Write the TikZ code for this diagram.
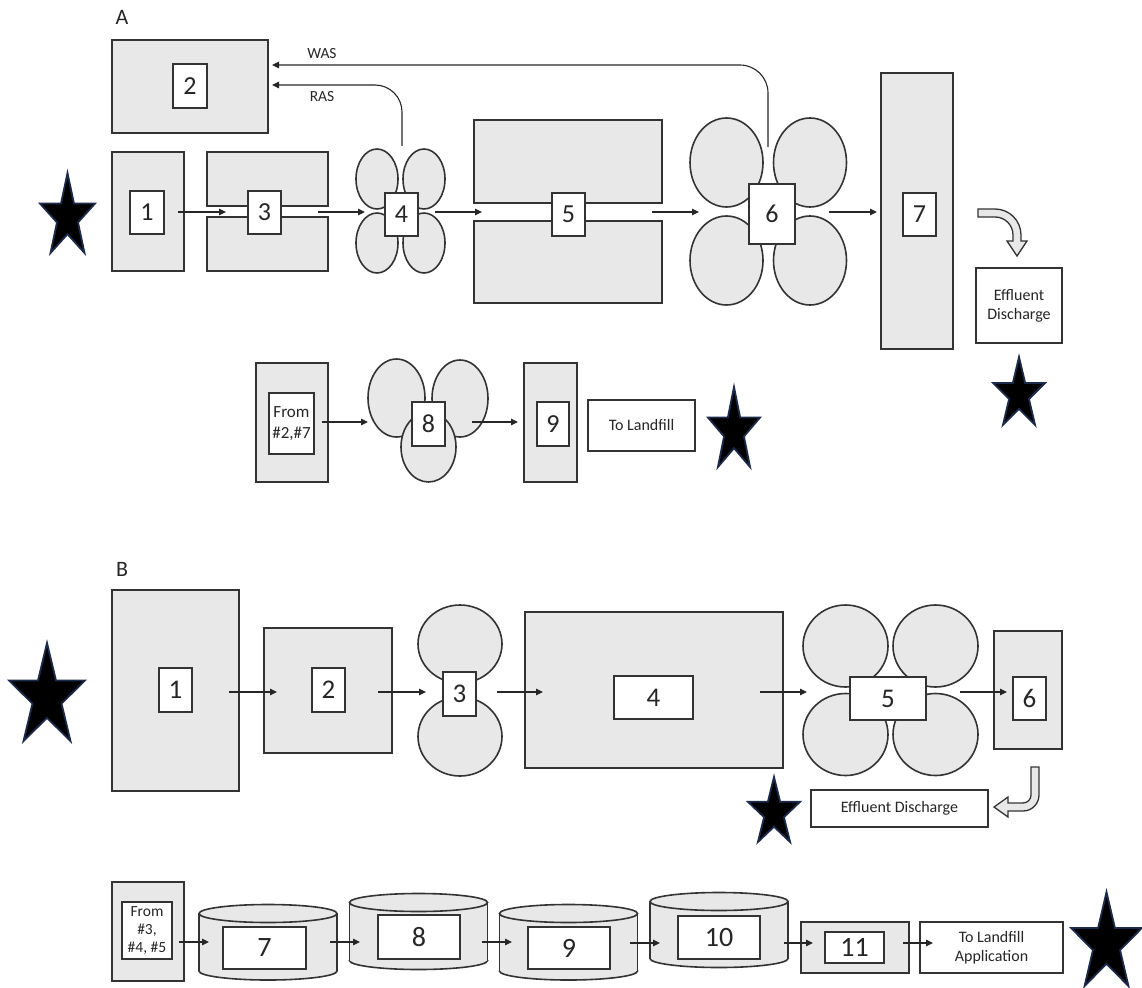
\documentclass[tikz,border=0pt]{standalone}
\usepackage{fontspec}
\setmainfont{Carlito}
\usetikzlibrary{shapes.geometric,arrows.meta}
\definecolor{edge}{HTML}{333333}
\definecolor{boxfill}{HTML}{E8E8E8}
\definecolor{ink}{HTML}{262626}
\definecolor{navy}{HTML}{1C2B4A}
\newcommand{\drawstarshape}[4]{% cx, top, w, h
  \pgfmathsetmacro\starR{#4/1.809}%
  \pgfmathsetmacro\starCY{#2+\starR}%
  \pgfmathsetmacro\starXS{#3/1.902}%
  \draw[starsty, shift={(#1,\starCY)}, xscale=\starXS, yscale=\starR]
    (270:1) -- (306:0.382) -- (342:1) -- (18:0.382) -- (54:1) -- (90:0.382)
    -- (126:1) -- (162:0.382) -- (198:1) -- (234:0.382) -- cycle;}
\newcommand{\cylshape}[3]{% cx, top-ellipse y, bottom-ellipse y
  \filldraw[cylsty] (#1,#3) ellipse [x radius=69, y radius=9];
  \fill[boxfill] (#1-69,#2) rectangle (#1+69,#3);
  \draw[cylsty] (#1-69,#2) -- (#1-69,#3) (#1+69,#2) -- (#1+69,#3);
  \filldraw[cylsty] (#1,#2) ellipse [x radius=69, y radius=9];}
\begin{document}
\begin{tikzpicture}[x=1pt,y=-1pt,
  sz/.style 2 args={minimum width=#1pt, minimum height=#2pt},
  gbox/.style={draw=edge, fill=boxfill, line width=1.6pt, rectangle, inner sep=0pt},
  ell/.style={draw=edge, fill=boxfill, line width=1.6pt, ellipse, inner sep=0pt},
  wbox/.style={draw=edge, fill=white, line width=1.3pt, rectangle, inner sep=0pt, text=ink, align=center},
  digA/.style={font=\fontsize{26}{30}\selectfont},
  digB/.style={font=\fontsize{27}{31}\selectfont},
  digC/.style={font=\fontsize{28}{32}\selectfont},
  small/.style={font=\fontsize{16}{19}\selectfont},
  flow/.style={draw=ink, line width=1.1pt, -{Triangle[length=7pt,width=6.5pt]}},
  starsty/.style={draw=navy, fill=black, line width=1.8pt},
  cylsty/.style={draw=edge, fill=boxfill, line width=1.6pt},
  blk/.style={draw=edge, fill=boxfill, line width=1.3pt}]
\useasboundingbox (0,0) rectangle (1142,987);

% ================= A =================
\node[text=ink, font=\fontsize{22}{26}\selectfont] (labA) at (122,17) {A};
\node[gbox, sz={156}{93}] (a2o) at (190,86.5) {};
\node[wbox, digA, sz={34}{44}] (a2) at (190,86) {2};
\node[gbox, sz={72}{119}] (a1o) at (148,211.5) {};
\node[wbox, digA, sz={34}{43}] (a1) at (147,212.5) {1};
\node[gbox, sz={121}{54}] (a3t) at (267.5,179) {};
\node[gbox, sz={121}{54}] (a3b) at (267.5,244) {};
\node[wbox, digA, sz={33}{43}] (a3) at (264.5,212.5) {3};
\node[ell, sz={42}{60}] (a4tl) at (377,179) {};
\node[ell, sz={42}{60}] (a4tr) at (424,179) {};
\node[ell, sz={42}{60}] (a4bl) at (377,243) {};
\node[ell, sz={42}{60}] (a4br) at (424,243) {};
\node[wbox, digA, sz={33}{43}] (a4) at (401.5,214.5) {4};
\node[gbox, sz={188}{83}] (a5t) at (568,161.5) {};
\node[gbox, sz={188}{82}] (a5b) at (568,262) {};
\node[wbox, digA, sz={33}{43}] (a5) at (568.5,214.5) {5};
\node[ell, sz={73}{89}] (a6tl) at (726.5,162.5) {};
\node[ell, sz={73}{89}] (a6tr) at (810,162.5) {};
\node[ell, sz={73}{89}] (a6bl) at (726.5,260.5) {};
\node[ell, sz={73}{89}] (a6br) at (810,260.5) {};
\node[wbox, digA, sz={46}{60}] (a6) at (772,214) {6};
\node[gbox, sz={72}{276}] (a7o) at (917,211) {};
\node[wbox, digA, sz={33}{43}] (a7) at (919.5,214.5) {7};
\node[wbox, small, sz={86}{75}] (aeff) at (1019,305.5) {Effluent\\Discharge};

\coordinate (a13s) at (178,212); \coordinate (a13e) at (226,212);
\coordinate (a34s) at (318,212); \coordinate (a34e) at (365,212);
\coordinate (a45s) at (435,212); \coordinate (a45e) at (482,212);
\coordinate (a56s) at (652,212); \coordinate (a56e) at (699,212);
\coordinate (a67s) at (829,212); \coordinate (a67e) at (877,212);
\draw[flow] (a13s) -- (a13e);
\draw[flow] (a34s) -- (a34e);
\draw[flow] (a45s) -- (a45e);
\draw[flow] (a56s) -- (a56e);
\draw[flow] (a67s) -- (a67e);

\coordinate (wasS) at (768,147); \coordinate (wasE) at (272,65);
\coordinate (rasS) at (402,146); \coordinate (rasE) at (272,85);
\draw[flow, rounded corners=28pt] (wasS) |- (wasE);
\draw[flow, rounded corners=27pt] (rasS) |- (rasE);
\node[text=ink, font=\fontsize{15.5}{18}\selectfont] (was) at (322,54) {WAS};
\node[text=ink, font=\fontsize{15.5}{18}\selectfont] (ras) at (322,97) {RAS};

% block arrow A
\draw[blk] (978,209) -- (995,209) .. controls (1009.36,209) and (1021,220.64) .. (1021,235)
  -- (1021,241) -- (1027,241) -- (1017,256) -- (1007,241) -- (1013,241) -- (1013,235)
  .. controls (1013,225.06) and (1004.94,217) .. (995,217) -- (978,217) -- cycle;

\drawstarshape{67.5}{173}{55}{80}
\drawstarshape{1019}{357}{52}{68}

% sludge line A
\node[gbox, sz={72}{119}] (sfo) at (292,422.5) {};
\node[wbox, font=\fontsize{17}{20.5}\selectfont, sz={45}{61}] (sf) at (291.5,423.5) {From\\\#2,\#7};
\node[ell, sz={57}{78}] (s8tl) at (396.5,398) {};
\node[ell, sz={56}{77}] (s8tr) at (460,398.5) {};
\node[ell, sz={55}{70}] (s8b) at (428.5,447) {};
\node[wbox, digA, sz={33}{44}] (s8) at (428.5,424) {8};
\node[gbox, sz={53}{119}] (s9o) at (550.5,422.5) {};
\node[wbox, digA, sz={32}{44}] (s9) at (553,424) {9};
\node[wbox, small, sz={107}{51}] (slf) at (641.5,425.5) {To Landfill};
\coordinate (s8s) at (322,422); \coordinate (s8e) at (368,422);
\coordinate (s9s) at (472,422); \coordinate (s9e) at (518,422);
\draw[flow] (s8s) -- (s8e);
\draw[flow] (s9s) -- (s9e);
\drawstarshape{734}{387}{52}{80}

% ================= B =================
\node[text=ink, font=\fontsize{22}{26}\selectfont] (labB) at (122,569) {B};
\node[gbox, sz={127}{201}] (b1o) at (175.5,690.5) {};
\node[wbox, digB, sz={33}{44}] (b1) at (175.5,690) {1};
\node[gbox, sz={128}{125}] (b2o) at (328,690.5) {};
\node[wbox, digB, sz={33}{44}] (b2) at (328.5,690) {2};
\node[ell, sz={84}{78}] (b3t) at (460,644) {};
\node[ell, sz={84}{79}] (b3b) at (460,736.5) {};
\node[wbox, digB, sz={33}{44}] (b3) at (459.5,694) {3};
\node[gbox, sz={258}{156}] (b4o) at (654,690) {};
\node[wbox, digB, sz={79}{43}] (b4) at (653.5,697.5) {4};
\node[ell, sz={85}{82}] (b5tl) at (845.5,646) {};
\node[ell, sz={85}{82}] (b5tr) at (935.5,646) {};
\node[ell, sz={85}{82}] (b5bl) at (845.5,734.5) {};
\node[ell, sz={85}{82}] (b5br) at (935.5,734.5) {};
\node[wbox, digB, sz={76}{43}] (b5) at (888,698.5) {5};
\node[gbox, sz={68}{118}] (b6o) at (1028,690) {};
\node[wbox, digB, sz={33}{43}] (b6) at (1029.5,698.5) {6};
\node[wbox, small, sz={177}{37}] (beff) at (899.5,808.5) {Effluent Discharge};

\coordinate (b12s) at (229,692); \coordinate (b12e) at (277,692);
\coordinate (b23s) at (378,692); \coordinate (b23e) at (426,692);
\coordinate (b34s) at (497,692); \coordinate (b34e) at (543,692);
\coordinate (b45s) at (760,692); \coordinate (b45e) at (807,692);
\coordinate (b56s) at (960,692); \coordinate (b56e) at (1007,692);
\draw[flow] (b12s) -- (b12e);
\draw[flow] (b23s) -- (b23e);
\draw[flow] (b34s) -- (b34e);
\draw[flow] (b45s) -- (b45e);
\draw[flow] (b56s) -- (b56e);

% block arrow B
\draw[blk] (1031,767) -- (1039,767) -- (1039,795) .. controls (1039,803.84) and (1031.84,811) .. (1023,811)
  -- (1008,811) -- (1008,817) -- (994,807) -- (1008,797) -- (1008,803) -- (1023,803)
  .. controls (1027.42,803) and (1031,799.42) .. (1031,795) -- cycle;

\drawstarshape{47}{643}{76}{98}
\drawstarshape{774}{777}{52}{65}

% sludge line B
\node[gbox, sz={72}{99}] (tfo) at (148,931.5) {};
\node[wbox, font=\fontsize{15.5}{18}\selectfont, sz={50}{57}] (tf) at (147,930.5) {From\\\#3,\\\#4, \#5};
\cylshape{268}{913.5}{971}
\node[wbox, digC, sz={83}{42}] (t7) at (264.5,948) {7};
\cylshape{418.5}{902.5}{960.5}
\node[wbox, digC, sz={82}{44}] (t8) at (419,937) {8};
\cylshape{568.5}{913.5}{971}
\node[wbox, digC, sz={82}{42}] (t9) at (569,948) {9};
\cylshape{719}{901.5}{958.5}
\node[wbox, digC, sz={82}{43}] (t10) at (719,937.5) {10};
\node[gbox, sz={108}{51}] (t11o) at (855,947.5) {};
\node[wbox, digC, sz={59}{31}] (t11) at (854.5,947.5) {11};
\node[wbox, small, sz={143}{51}] (tlf) at (991.5,947.5) {To Landfill\\Application};

\coordinate (t7s) at (179,942); \coordinate (t7e) at (209,942);
\coordinate (t8s) at (330,942); \coordinate (t8e) at (360,942);
\coordinate (t9s) at (482,942); \coordinate (t9e) at (512,942);
\coordinate (t10s) at (630,943); \coordinate (t10e) at (660,943);
\coordinate (t11s) at (784,943); \coordinate (t11e) at (813,943);
\coordinate (tls) at (903,943); \coordinate (tle) at (933,943);
\draw[flow] (t7s) -- (t7e);
\draw[flow] (t8s) -- (t8e);
\draw[flow] (t9s) -- (t9e);
\draw[flow] (t10s) -- (t10e);
\draw[flow] (t11s) -- (t11e);
\draw[flow] (tls) -- (tle);
\drawstarshape{1106.5}{892}{71}{94}
\end{tikzpicture}
\end{document}
